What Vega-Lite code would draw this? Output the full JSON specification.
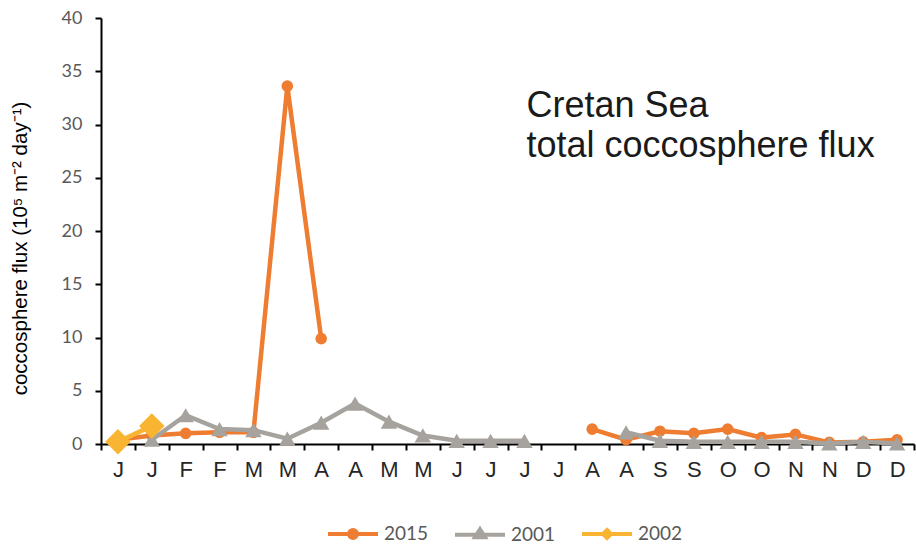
{
  "$schema": "https://vega.github.io/schema/vega-lite/v6.json",
  "width": 813,
  "height": 426,
  "autosize": "none",
  "padding": {"left": 101, "top": 18, "right": 2, "bottom": 104},
  "background": "white",
  "config": {"view": {"stroke": null}},
  "data": {
    "values": [
      {"period": "Jan1", "series": "2015", "value": 0.4},
      {"period": "Jan2", "series": "2015", "value": 0.8},
      {"period": "Feb1", "series": "2015", "value": 1.0},
      {"period": "Feb2", "series": "2015", "value": 1.1},
      {"period": "Mar1", "series": "2015", "value": 1.1},
      {"period": "Mar2", "series": "2015", "value": 33.6},
      {"period": "Apr1", "series": "2015", "value": 9.9},
      {"period": "Apr2", "series": "2015", "value": null},
      {"period": "Aug1", "series": "2015", "value": 1.4},
      {"period": "Aug2", "series": "2015", "value": 0.4},
      {"period": "Sep1", "series": "2015", "value": 1.2},
      {"period": "Sep2", "series": "2015", "value": 1.0},
      {"period": "Oct1", "series": "2015", "value": 1.4},
      {"period": "Oct2", "series": "2015", "value": 0.6},
      {"period": "Nov1", "series": "2015", "value": 0.9},
      {"period": "Nov2", "series": "2015", "value": 0.15},
      {"period": "Dec1", "series": "2015", "value": 0.2},
      {"period": "Dec2", "series": "2015", "value": 0.4},
      {"period": "Jan2", "series": "2001", "value": 0.4},
      {"period": "Feb1", "series": "2001", "value": 2.7},
      {"period": "Feb2", "series": "2001", "value": 1.4},
      {"period": "Mar1", "series": "2001", "value": 1.3},
      {"period": "Mar2", "series": "2001", "value": 0.5},
      {"period": "Apr1", "series": "2001", "value": 2.0},
      {"period": "Apr2", "series": "2001", "value": 3.8},
      {"period": "May1", "series": "2001", "value": 2.1},
      {"period": "May2", "series": "2001", "value": 0.8},
      {"period": "Jun1", "series": "2001", "value": 0.3},
      {"period": "Jun2", "series": "2001", "value": 0.3},
      {"period": "Jul1", "series": "2001", "value": 0.3},
      {"period": "Jul2", "series": "2001", "value": null},
      {"period": "Aug2", "series": "2001", "value": 1.1},
      {"period": "Sep1", "series": "2001", "value": 0.3},
      {"period": "Sep2", "series": "2001", "value": 0.2},
      {"period": "Oct1", "series": "2001", "value": 0.2},
      {"period": "Oct2", "series": "2001", "value": 0.2},
      {"period": "Nov1", "series": "2001", "value": 0.2},
      {"period": "Nov2", "series": "2001", "value": 0.05},
      {"period": "Dec1", "series": "2001", "value": 0.2},
      {"period": "Dec2", "series": "2001", "value": 0.05},
      {"period": "Jan1", "series": "2002", "value": 0.2},
      {"period": "Jan2", "series": "2002", "value": 1.7},
      {"note": "Cretan Sea"},
      {"note": "total coccosphere flux"}
    ]
  },
  "layer": [
    {
      "transform": [{"filter": "datum.series === '2015'"}],
      "mark": {"type": "line", "strokeWidth": 4.5, "invalid": "break-paths-show-domains"},
      "encoding": {
        "x": {
          "field": "period",
          "type": "ordinal",
          "scale": {
            "type": "band",
            "domain": ["Jan1","Jan2","Feb1","Feb2","Mar1","Mar2","Apr1","Apr2","May1","May2","Jun1","Jun2","Jul1","Jul2","Aug1","Aug2","Sep1","Sep2","Oct1","Oct2","Nov1","Nov2","Dec1","Dec2"],
            "paddingInner": 0,
            "paddingOuter": 0
          },
          "axis": {
            "title": null,
            "tickBand": "extent",
            "labelExpr": "datum.value ? substring(datum.value,0,1) : ''",
            "labelAngle": 0,
            "labelFont": "Liberation Sans",
            "labelFontSize": 22,
            "labelColor": "#262626",
            "labelPadding": 9,
            "tickSize": 6,
            "tickColor": "black",
            "tickWidth": 2,
            "domainColor": "black",
            "domainWidth": 2,
            "grid": false
          }
        },
        "y": {
          "field": "value",
          "type": "quantitative",
          "scale": {"domain": [0, 40], "nice": false},
          "axis": {
            "values": [0, 5, 10, 15, 20, 25, 30, 35, 40],
            "labelFont": "Lato",
            "labelFontSize": 18,
            "labelColor": "#595959",
            "labelPadding": 13,
            "tickSize": 6,
            "tickColor": "black",
            "tickWidth": 2,
            "domainColor": "black",
            "domainWidth": 2,
            "grid": false,
            "title": "coccosphere flux (10⁵ m⁻² day⁻¹)",
            "titleFont": "Liberation Sans",
            "titleFontSize": 20.5,
            "titleFontWeight": "normal",
            "titleColor": "black",
            "titleX": -81,
            "titleY": 230,
            "titleAngle": -90,
            "titleAlign": "center",
            "titleBaseline": "middle"
          }
        },
        "color": {
          "field": "series",
          "type": "nominal",
          "scale": {"domain": ["2015", "2001", "2002"], "range": ["#EE7D31", "#A6A39F", "#F9B531"]},
          "legend": {
            "title": null,
            "orient": "none",
            "legendX": 225,
            "legendY": 489,
            "direction": "horizontal",
            "padding": 0,
            "symbolSize": 2500,
            "labelOffset": 4,
            "columnPadding": 18,
            "labelFont": "Lato",
            "labelFontSize": 19,
            "labelColor": "#595959",
            "encode": {
              "symbols": {
                "update": {
                  "shape": {"signal": "datum.value === '2015' ? 'M-1,0H1M-0.16,0A0.16,0.16 0 1,0 0.16,0A0.16,0.16 0 1,0 -0.16,0Z' : datum.value === '2001' ? 'M-1,0H1M0,-0.22L0.2,0.1H-0.2Z' : 'M-1,0H1M0,-0.16L0.16,0L0,0.16L-0.16,0Z'"},
                  "fill": {"scale": "color", "field": "value"},
                  "stroke": {"scale": "color", "field": "value"},
                  "strokeWidth": {"value": 4},
                  "size": {"value": 2500}
                }
              }
            }
          }
        }
      }
    },
    {
      "transform": [{"filter": "datum.series === '2015'"}],
      "mark": {"type": "point", "shape": "circle", "filled": true, "opacity": 1, "size": 135, "color": "#EE7D31"},
      "encoding": {
        "x": {"field": "period", "type": "ordinal"},
        "y": {"field": "value", "type": "quantitative"}
      }
    },
    {
      "transform": [{"filter": "datum.series === '2001'"}],
      "mark": {"type": "line", "strokeWidth": 4.5, "invalid": "break-paths-show-domains"},
      "encoding": {
        "x": {"field": "period", "type": "ordinal"},
        "y": {"field": "value", "type": "quantitative"},
        "color": {"field": "series", "type": "nominal"}
      }
    },
    {
      "transform": [{"filter": "datum.series === '2001'"}],
      "mark": {"type": "point", "shape": "triangle-up", "filled": true, "opacity": 1, "size": 270, "color": "#A6A39F"},
      "encoding": {
        "x": {"field": "period", "type": "ordinal"},
        "y": {"field": "value", "type": "quantitative"}
      }
    },
    {
      "transform": [{"filter": "datum.series === '2002'"}],
      "mark": {"type": "line", "strokeWidth": 4.5, "invalid": "break-paths-show-domains"},
      "encoding": {
        "x": {"field": "period", "type": "ordinal"},
        "y": {"field": "value", "type": "quantitative"},
        "color": {"field": "series", "type": "nominal"}
      }
    },
    {
      "transform": [{"filter": "datum.series === '2002'"}],
      "mark": {"type": "point", "shape": "diamond", "filled": true, "opacity": 1, "size": 650, "color": "#F9B531"},
      "encoding": {
        "x": {"field": "period", "type": "ordinal"},
        "y": {"field": "value", "type": "quantitative"}
      }
    },
    {
      "transform": [{"filter": "datum.note === 'Cretan Sea'"}],
      "mark": {
        "type": "text",
        "align": "left",
        "baseline": "alphabetic",
        "font": "Liberation Sans",
        "fontSize": 36,
        "dx": 2,
        "color": "#1a1a1a"
      },
      "encoding": {
        "x": {"datum": "Jul1", "type": "ordinal"},
        "y": {"datum": 30.7, "type": "quantitative"},
        "text": {"field": "note", "type": "nominal"}
      }
    },
    {
      "transform": [{"filter": "datum.note === 'total coccosphere flux'"}],
      "mark": {
        "type": "text",
        "align": "left",
        "baseline": "alphabetic",
        "font": "Liberation Sans",
        "fontSize": 36,
        "dx": 2,
        "color": "#1a1a1a"
      },
      "encoding": {
        "x": {"datum": "Jul1", "type": "ordinal"},
        "y": {"datum": 26.95, "type": "quantitative"},
        "text": {"field": "note", "type": "nominal"}
      }
    }
  ]
}
